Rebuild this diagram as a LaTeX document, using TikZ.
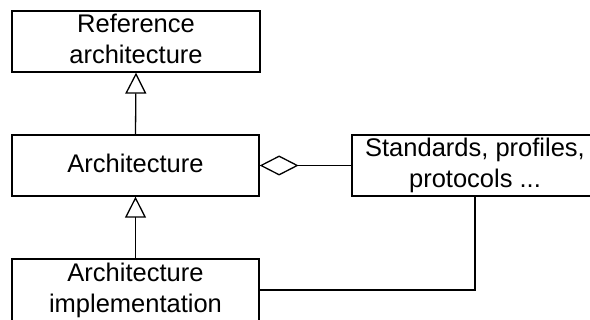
\documentclass[tikz,border=0pt]{standalone}
\usepackage{fontspec}
\setmainfont{Liberation Sans}
\usetikzlibrary{arrows.meta}
\newcommand{\boxstrut}{\rule[-8pt]{0pt}{30pt}}
\tikzset{
  umlbox/.style={draw, line width=1.3pt, inner sep=0pt, align=center,
    font=\fontsize{25.5pt}{31pt}\selectfont, fill=white},
  conn/.style={line width=1.3pt},
  generalizes/.style={conn, -{Triangle[open, length=21pt, width=21pt, fill=white]}},
  aggregates/.style={conn, -{Diamond[open, length=39pt, width=20pt, fill=white]}}
}
\begin{document}
\begin{tikzpicture}[x=1pt, y=-1pt]
  \useasboundingbox (0,0) rectangle (590,320);
  \clip (0,0) rectangle (590,320);
  \node[umlbox, minimum width=248pt, minimum height=61pt] (ref) at (136,41.5)
    {\boxstrut Reference\\\boxstrut architecture};
  \node[umlbox, minimum width=247pt, minimum height=61pt] (arch) at (135.5,165.5)
    {\boxstrut Architecture};
  \node[umlbox, minimum width=246pt, minimum height=61pt] (std) at (475,165.5)
    {\boxstrut Standards, profiles,\\\boxstrut protocols ...};
  \node[umlbox, minimum width=247pt, minimum height=62pt] (impl) at (135.5,290)
    {\boxstrut Architecture\\\boxstrut implementation};
  \draw[generalizes] (arch.north) -- (ref.south);
  \draw[generalizes] (impl.north) -- (arch.south);
  \draw[aggregates] (std.west) -- (arch.east);
  \draw[conn] (impl.east) -| (std.south);
\end{tikzpicture}
\end{document}
